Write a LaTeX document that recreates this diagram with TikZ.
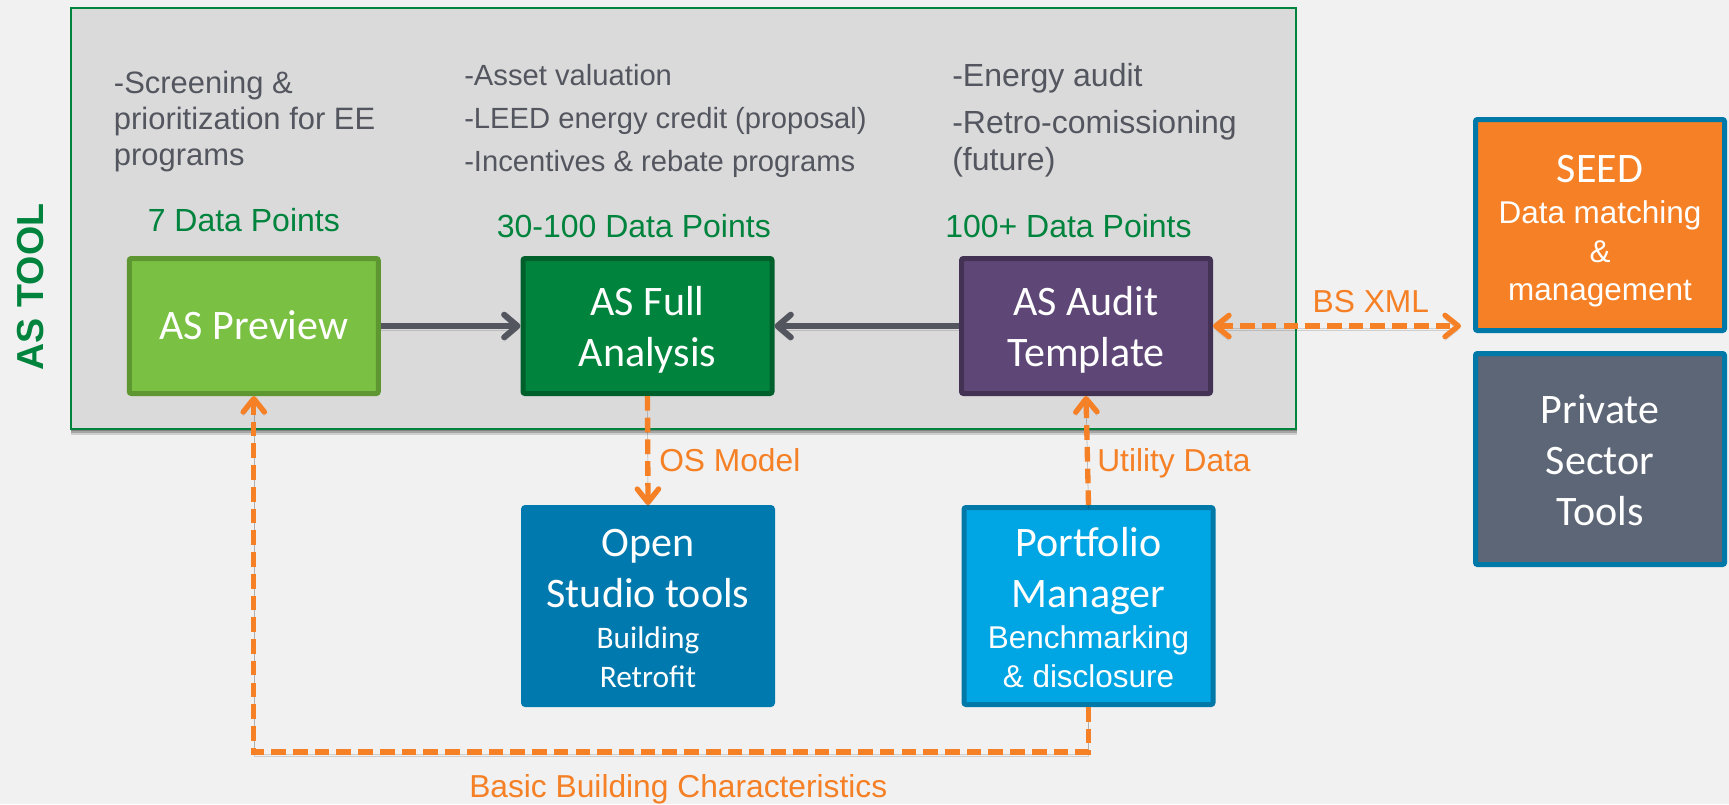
\documentclass[tikz,border=0pt]{standalone}
\usepackage{fontspec}
\usetikzlibrary{arrows.meta,shadows}
\setmainfont{Liberation Sans}
\newfontfamily\carlito{Carlito}
\definecolor{bgc}{HTML}{F1F1F1}
\definecolor{panelc}{HTML}{DADADA}
\definecolor{greenc}{HTML}{00843D}
\definecolor{greydk}{HTML}{53565F}
\definecolor{orangec}{HTML}{F58025}
\definecolor{prevf}{HTML}{7AC143}
\definecolor{prevd}{HTML}{5E9732}
\definecolor{fullf}{HTML}{00843D}
\definecolor{fulld}{HTML}{00602C}
\definecolor{audf}{HTML}{5E4777}
\definecolor{audd}{HTML}{433254}
\definecolor{openf}{HTML}{007AAE}
\definecolor{portf}{HTML}{00A5E3}
\definecolor{bluedk}{HTML}{0078A8}
\definecolor{privf}{HTML}{5C6676}
\newcommand{\bigt}{\fontsize{31.5}{38.25}\carlito}
\newcommand{\midt}{\fontsize{23.6}{29.25}\rmfamily\selectfont}
\newcommand{\midc}{\fontsize{23.5}{29.25}\carlito}
\lineskiplimit=-100pt
\tikzset{
  boxy/.style={draw=#1,line width=3.75pt,rounded corners=1.5pt,inner sep=0pt,
    minimum width=186.75pt,align=center,text=white,font=\bigt},
  hdg/.style={anchor=base west,text=greenc,inner sep=0pt,font=\fontsize{24}{29}\selectfont},
  notes/.style={anchor=base west,align=left,text=greydk,inner sep=0pt},
  lab/.style={anchor=base west,text=orangec,inner sep=0pt,font=\fontsize{23.8}{29}\selectfont},
  softsh/.style={preaction={draw=black,opacity=.14,transform canvas={yshift=-1.5pt}},
    preaction={draw=black,opacity=.14,transform canvas={yshift=-3pt}}},
  greyarrow/.style={line width=4.5pt,softsh,draw=greydk,-{Straight Barb[length=10pt,width=17pt,round]}},
  orangearrow/.style={line width=4pt,softsh,draw=orangec,dash pattern=on 11pt off 5.3pt}
}
\begin{document}
\begin{tikzpicture}[x=0.75pt,y=-0.75pt]
\useasboundingbox (0,0) rectangle (1729,804);
\fill[bgc] (0,0) rectangle (1729,804);
\node[draw=greenc,fill=panelc,line width=1.5pt,inner sep=0pt,minimum width=919pt,minimum height=315.75pt,
  drop shadow={shadow xshift=0.5pt,shadow yshift=-1.5pt,opacity=.2,fill=black},
  drop shadow={shadow xshift=0.5pt,shadow yshift=-3pt,opacity=.2,fill=black},
  drop shadow={shadow xshift=0.5pt,shadow yshift=-5pt,opacity=.14,fill=black}] (panel) at (683.25,218.25) {};

\node[anchor=base,rotate=90,text=greenc,font=\fontsize{28.2}{32}\selectfont\bfseries,inner sep=0pt] (tooltitle) at (43.6,287) {AS TOOL};

\node[notes,font=\fontsize{23.2}{27}\selectfont] (n1) at (113.7,165) {-Screening \&\\prioritization for EE\\programs};
\node[notes,font=\fontsize{21.9}{31.9}\selectfont] (n2) at (464,171) {-Asset valuation\\-LEED energy credit (proposal)\\-Incentives \& rebate programs};
\node[notes,font=\fontsize{24}{27.75}\selectfont] (n3) at (952,170) {-Energy audit\\[7.5pt]-Retro-comissioning\\(future)};

\node[hdg] (h1) at (147.5,231) {7 Data Points};
\node[hdg] (h2) at (496.6,237) {30-100 Data Points};
\node[hdg] (h3) at (945,237) {100+ Data Points};

\node[boxy=prevd,fill=prevf,text height=60.375pt,text depth=40.875pt] (preview) at (253.8,326) {AS Preview};
\node[boxy=fulld,fill=fullf,text height=80.625pt,text depth=20.625pt] (full) at (647.5,326) {AS Full\\Analysis};
\node[boxy=audd,fill=audf,text height=80.625pt,text depth=20.625pt] (audit) at (1086,326) {AS Audit\\Template};
\node[boxy=openf,fill=openf,text height=134.625pt,text depth=13.125pt] (open) at (648,606)
  {Open\\Studio tools\\[-7.5pt]{\midc Building}\\[-9pt]{\midc Retrofit}};
\node[boxy=bluedk,fill=portf,text height=134.625pt,text depth=13.125pt] (portfolio) at (1088.5,606)
  {Portfolio\\Manager\\[-7.5pt]{\midt Benchmarking}\\[-9pt]{\midt \& disclosure}};
\node[boxy=bluedk,fill=orangec,text height=135.375pt,text depth=22.875pt] (seed) at (1600,225)
  {SEED\\[-7.5pt]{\midt Data matching}\\[-9pt]{\midt \&}\\[-9.75pt]{\midt management}};
\node[boxy=bluedk,fill=privf,text height=128.625pt,text depth=29.625pt] (private) at (1600,459)
  {Private\\Sector\\Tools};

\coordinate (bendleft) at (253.8,752);
\coordinate (xmlend) at (1461,326);

\draw[greyarrow] (preview.east) -- (full.west);
\draw[greyarrow] (audit.west) -- (full.east);
\draw[orangearrow,-{Straight Barb[length=10pt,width=16pt,round]}] (full.south) -- (open.north);
\draw[orangearrow,-{Straight Barb[length=10pt,width=16pt,round]}] (portfolio.north) -- (audit.south);
\draw[orangearrow,-{Straight Barb[length=10pt,width=16pt,round]}] (portfolio.south) -- (portfolio.south |- bendleft) -- (bendleft) -- (preview.south);
\draw[orangearrow,{Straight Barb[length=10pt,width=16pt,round]}-{Straight Barb[length=10pt,width=16pt,round]}] (audit.east) -- (xmlend);

\node[lab] (l1) at (659,471) {OS Model};
\node[lab] (l2) at (1097,471) {Utility Data};
\node[lab] (l3) at (1312.4,312) {BS XML};
\node[lab] (l4) at (469,797) {Basic Building Characteristics};
\end{tikzpicture}
\end{document}
